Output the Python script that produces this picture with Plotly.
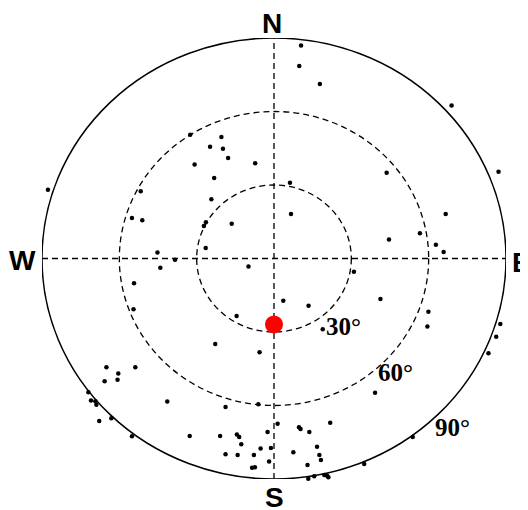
import plotly.graph_objects as go

# Sky positions projected on the plane: east and north components of the
# zenith angle (degrees).
east_deg = [
    -32.5, -20.4, -24.8, -19.8, -17.8, -30.8, -7.3,
    10.5, 9.8, 17.8, 68.9,
    -87.7, -51.7, -23.2, -24.3, -55.1, -51.1, -26.4, -27.2, -16.4, -26.5,
    -45.2, -44.1, -38.4, -9.9, -54.3, -54.5, -14.5,
    87.1, 43.7, 6.2, 6.6, 66.6, 44.6, 56.6, 62.8, 65.8, 90.8, 92.6, 31.0,
    3.6, 13.4, 41.3, 59.9, 59.5, 87.8, 86.2, 18.9,
    -22.8, -5.6, -65.0, -60.4, -53.8, -65.7, -60.7, -72.0, -71.0, -69.3,
    -68.9, -67.8, -63.1, -55.1, -41.4, -18.8, -6.1, -32.7, -20.9, -14.4,
    -13.5, -12.7, -5.2, -18.8, -14.1, -7.8, -8.5, -7.4, -21.1, -15.8,
    -10.6, -10.2,
    83.2, 39.2, 1.4, -2.5, 9.7, 10.3, 13.7, 21.8, -1.2, -1.9, 7.5, 16.7,
    17.6, 18.2, 13.0, 53.8, 35.0, 13.3, 15.6, 19.5, 21.1, 20.8, 20.6,
    -2.5, 1.4,
]
north_deg = [
    50.5, 49.6, 45.6, 44.8, 41.0, 38.4, 38.9,
    86.9, 78.6, 71.2, 62.5,
    28.1, 27.4, 32.9, 24.2, 16.5, 15.6, 14.8, 13.3, 14.2, 4.3,
    2.5, -3.8, -0.5, -3.3, -10.1, -20.7, -23.5,
    35.4, 35.0, 30.9, 18.2, 18.2, 7.8, 10.3, 5.6, 2.7, 5.4, 0.3, -5.4,
    -17.2, -19.3, -16.5, -21.7, -27.8, -26.7, -31.9, -28.9,
    -34.9, -38.3, -44.4, -46.9, -44.4, -50.1, -49.5, -54.6, -58.0, -58.3,
    -59.7, -66.3, -65.2, -72.6, -58.4, -60.6, -59.5, -72.4, -72.4, -71.8,
    -72.9, -75.8, -77.5, -79.9, -80.2, -80.2, -85.4, -85.2, -90.4, -90.1,
    -90.1, -90.7,
    -38.7, -54.8, -67.4, -70.8, -68.9, -69.6, -70.8, -67.0, -77.3, -82.9,
    -79.1, -76.8, -80.2, -82.2, -84.3, -72.9, -83.9, -89.9, -88.9, -88.4,
    -89.3, -90.8, -88.7, -91.5, -92.7,
]

# Highlighted source
target_east = [0.0]
target_north = [-26.9]

# Zenith-angle rings
ring_angles = [30, 60, 90]
ring_labels = ["30°", "60°", "90°"]
ring_label_east = [26.8, 47.2, 69.2]
ring_label_north = [-27.8, -46.7, -68.8]

# Compass labels (positions as fractions of the plotting area)
compass_text = ["N", "E", "S", "W"]
compass_px = [0.4957, 1.034, 0.500, -0.042]
compass_py = [1.034, 0.490, -0.043, 0.495]

fig = go.Figure()

fig.add_trace(go.Scatter(
    x=east_deg, y=north_deg, mode="markers",
    marker=dict(size=4.5, color="black"),
    showlegend=False, hoverinfo="skip", cliponaxis=False,
))
fig.add_trace(go.Scatter(
    x=target_east, y=target_north, mode="markers",
    marker=dict(size=18, color="#ff0000"),
    showlegend=False, hoverinfo="skip", cliponaxis=False,
))

shapes = []
for r in ring_angles:
    solid = (r == 90)
    shapes.append(dict(
        type="circle", xref="x", yref="y", x0=-r, y0=-r, x1=r, y1=r,
        line=dict(color="black", width=1.5 if solid else 1.3,
                  dash="solid" if solid else "6px,4px"),
        layer="below",
    ))
rmax = max(ring_angles)
shapes.append(dict(type="line", xref="x", yref="y", x0=-rmax, x1=rmax, y0=0, y1=0,
                   line=dict(color="black", width=1.3, dash="6px,4px"), layer="below"))
shapes.append(dict(type="line", xref="x", yref="y", x0=0, x1=0, y0=-rmax, y1=rmax,
                   line=dict(color="black", width=1.3, dash="6px,4px"), layer="below"))

annotations = []
for t, xp, yp in zip(compass_text, compass_px, compass_py):
    annotations.append(dict(
        x=xp, y=yp, xref="paper", yref="paper", text="<b>%s</b>" % t, showarrow=False,
        xanchor="center", yanchor="middle",
        font=dict(family="Liberation Sans, Arial, sans-serif", size=28, color="black"),
    ))
for t, xe, yn in zip(ring_labels, ring_label_east, ring_label_north):
    annotations.append(dict(
        x=xe, y=yn, xref="x", yref="y", text="<b>%s</b>" % t, showarrow=False,
        xanchor="center", yanchor="middle",
        font=dict(family="Liberation Serif, Times New Roman, serif", size=25, color="black"),
    ))

fig.update_layout(
    width=528, height=510,
    margin=dict(l=34, r=30, t=30, b=39),
    paper_bgcolor="white", plot_bgcolor="white",
    xaxis=dict(range=[-90, 90], visible=False, showgrid=False, zeroline=False),
    yaxis=dict(range=[-90, 90], visible=False, showgrid=False, zeroline=False),
    shapes=shapes, annotations=annotations, showlegend=False,
)

fig.write_html("out.html")
